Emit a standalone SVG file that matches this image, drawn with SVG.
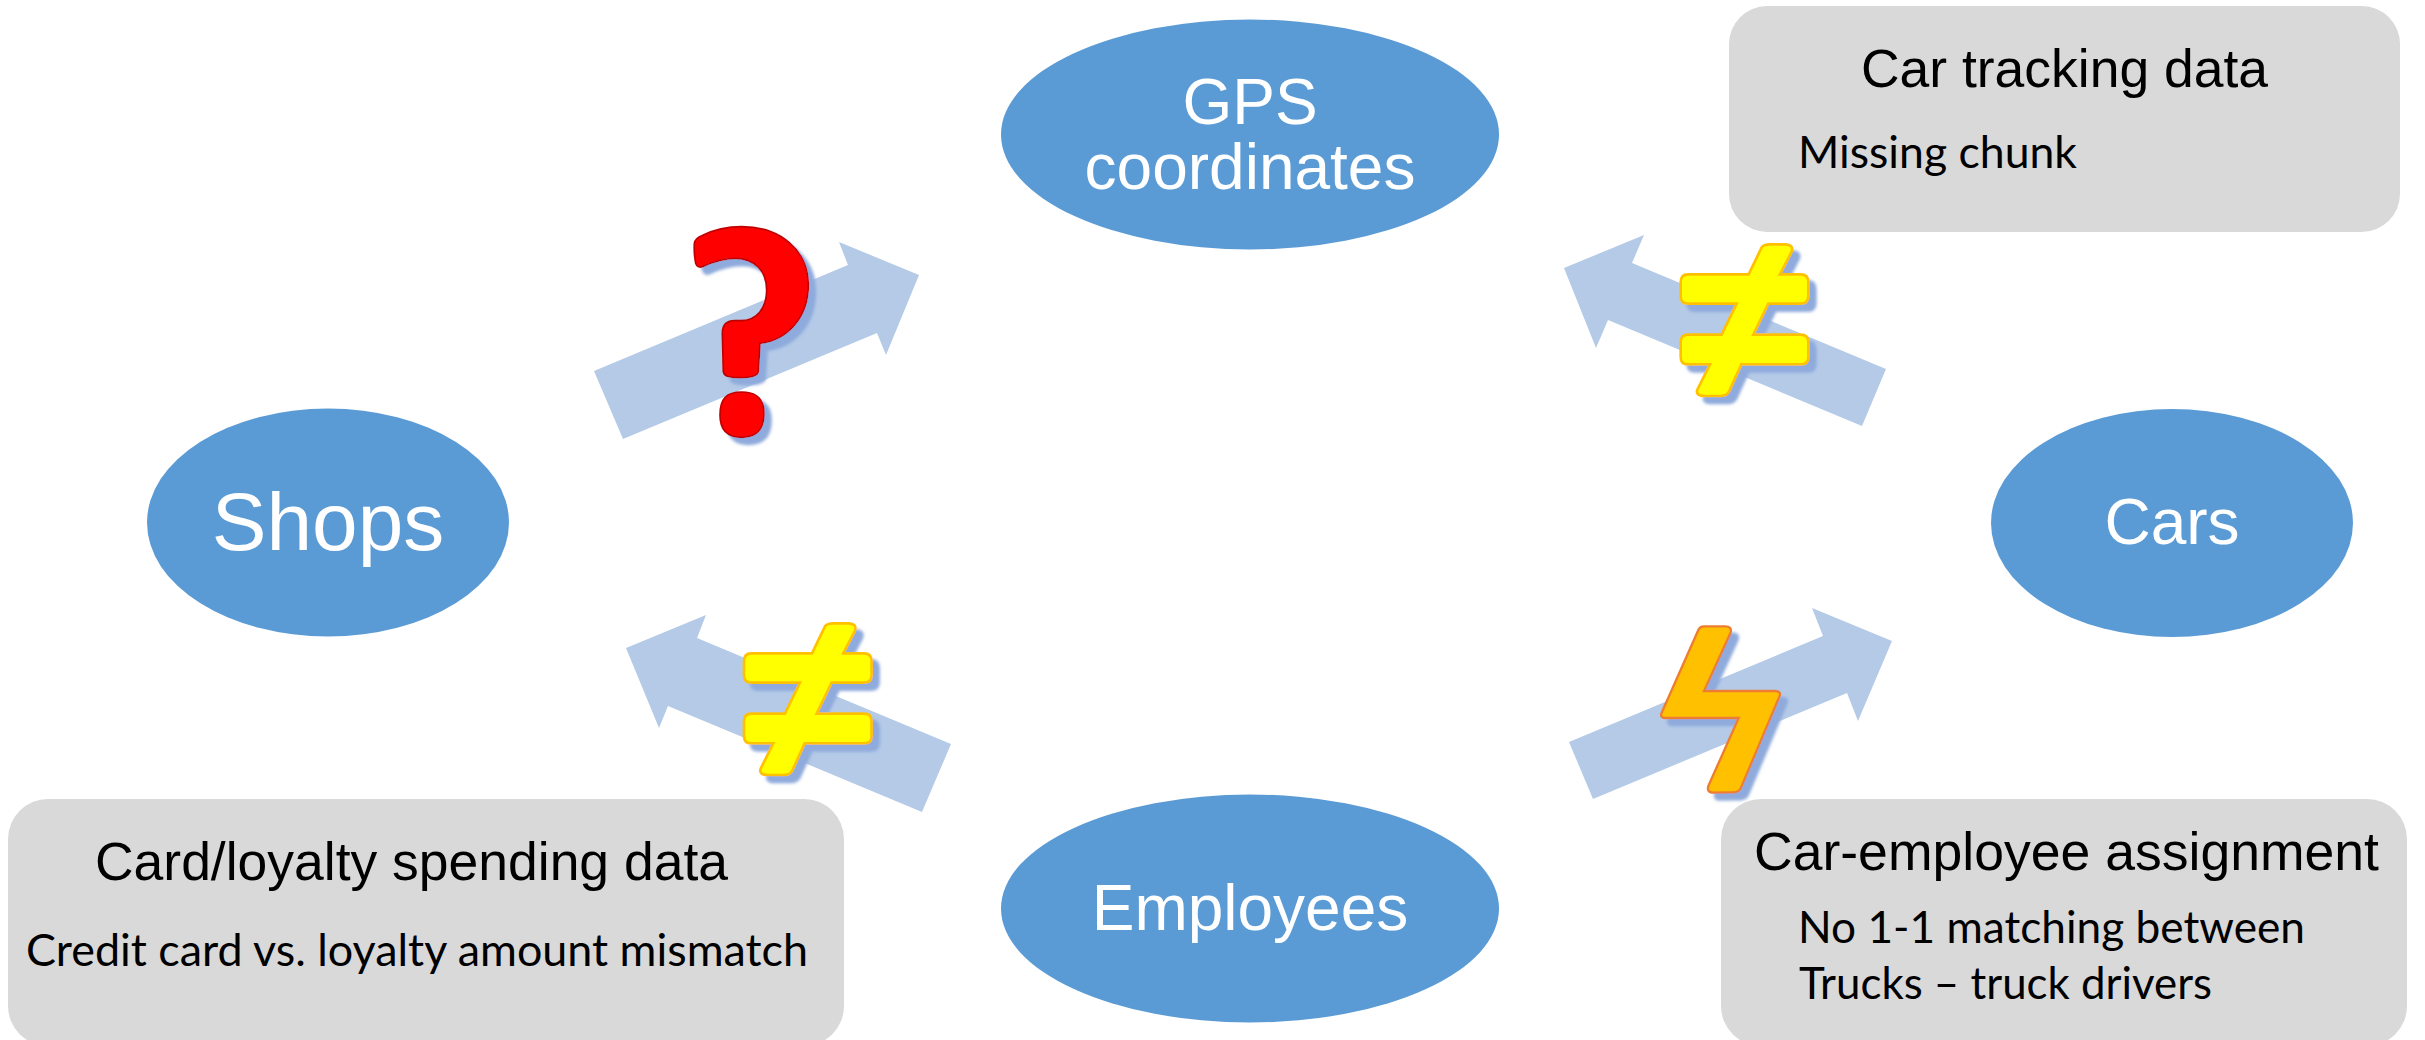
<svg xmlns="http://www.w3.org/2000/svg" width="2425" height="1040" viewBox="0 0 2425 1040">
<style>
.node{fill:#5B9BD5}
.box{fill:#D9D9D9}
.arrow{fill:#B4CAE7}
.lbl{font-family:"Liberation Sans",Arial,sans-serif;fill:#fff;text-anchor:middle}
.ttl{font-family:"Liberation Sans",Arial,sans-serif;fill:#000;font-size:54px}
.sub{font-family:Lato,"Open Sans",sans-serif;fill:#000;font-size:44px}
.q{fill:#FF0000;stroke:#C00000;stroke-width:5}
.ne{fill:#FFFF00;stroke:#FFC000;stroke-width:8}
.bolt{fill:#FFC000;stroke:#ED7D31;stroke-width:7}
</style>
<defs>
<filter id="sh" x="-20%" y="-20%" width="150%" height="150%"><feDropShadow dx="7" dy="7" stdDeviation="1.6" flood-color="#8FAADC" flood-opacity="1"/></filter>
<path id="neq" transform="scale(.33333)" d="M635 82 C640 75 648 73 660 73 L705 73 C722 73 731 82 724 97 L690 163 L752 163 C767 163 775 172 775 187 L775 228 C775 243 767 251 752 251 L655 251 L610 344 L752 344 C767 344 775 352 775 367 L775 410 C775 425 767 433 752 433 L574 433 L537 515 C532 525 524 528 512 528 L465 528 C447 528 436 522 443 507 L480 433 L414 433 C399 433 392 425 392 410 L392 367 C392 352 399 344 414 344 L515 344 L560 251 L414 251 C399 251 392 243 392 228 L392 187 C392 172 399 163 414 163 L596 163 Z"/>
</defs>
<g id="connectors">
<polygon class="arrow" points="594,371 848,265 839,242 919,275 886,355 877,333 623,439"/>
<polygon class="arrow" points="1564,268 1644,235 1632,263 1886,369 1862,426 1608,320 1596,348"/>
<polygon class="arrow" points="626,648 706,615 697,638 951,744 922,812 668,706 659,728"/>
<polygon class="arrow" points="1569,742 1823,636 1812,608 1892,641 1858,721 1847,693 1593,799"/>
</g>
<g id="gps"><ellipse class="node" cx="1250" cy="134.5" rx="249" ry="115"/>
<text class="lbl" x="1250" y="124" font-size="64">GPS</text><text class="lbl" x="1250" y="189" font-size="64">coordinates</text></g>
<g id="shops"><ellipse class="node" cx="328" cy="522.5" rx="181" ry="114"/>
<text class="lbl" x="328" y="550" font-size="82">Shops</text></g>
<g id="cars"><ellipse class="node" cx="2172" cy="523" rx="181" ry="114"/>
<text class="lbl" x="2172" y="544" font-size="64">Cars</text></g>
<g id="employees"><ellipse class="node" cx="1250" cy="908.5" rx="249" ry="114"/>
<text class="lbl" x="1250" y="930" font-size="64">Employees</text></g>
<g id="box-tracking"><rect class="box" x="1729" y="6" width="671" height="226" rx="38"/>
<text class="ttl" x="1861" y="87" textLength="407" lengthAdjust="spacingAndGlyphs">Car tracking data</text>
<text class="sub" x="1798" y="168" textLength="279" lengthAdjust="spacingAndGlyphs">Missing chunk</text></g>
<g id="box-spending"><rect class="box" x="8" y="799" width="836" height="247" rx="40"/>
<text class="ttl" x="95" y="880" textLength="633" lengthAdjust="spacingAndGlyphs">Card/loyalty spending data</text>
<text class="sub" x="26" y="966" textLength="782" lengthAdjust="spacingAndGlyphs">Credit card vs. loyalty amount mismatch</text></g>
<g id="box-assignment"><rect class="box" x="1721" y="799" width="686" height="247" rx="40"/>
<text class="ttl" x="1754" y="870" textLength="625" lengthAdjust="spacingAndGlyphs">Car-employee assignment</text>
<text class="sub" x="1798" y="943" textLength="507" lengthAdjust="spacingAndGlyphs">No 1-1 matching between</text>
<text class="sub" x="1799" y="999" textLength="413" lengthAdjust="spacingAndGlyphs">Trucks – truck drivers</text></g>
<g id="question" filter="url(#sh)"><g transform="translate(580,200) scale(.33333)">
<path class="q" d="M343 130 C345 118 352 112 365 107 C400 90 445 80 485 80 C600 80 685 150 685 255 C685 350 625 420 540 430 L535 515 C533 528 515 533 480 533 C445 533 432 528 430 515 L427 400 C427 375 440 362 465 362 L482 362 C530 362 560 325 560 270 C560 215 525 175 465 175 C430 175 400 185 372 198 C358 205 350 200 347 190 C344 175 342 150 343 130 Z"/>
<path class="q" d="M485 576 C530 576 552 595 552 640 C552 690 530 712 485 712 C440 712 420 690 420 645 C420 595 440 576 485 576 Z"/></g></g>
<g id="neq-gps" filter="url(#sh)"><use class="ne" href="#neq" transform="translate(1550,220)"/></g>
<g id="neq-shops" filter="url(#sh)"><use class="ne" href="#neq" transform="translate(613.3,599)"/></g>
<g id="bolt" filter="url(#sh)"><path class="bolt" transform="translate(1550,600) scale(.33333)" d="M445 90 C448 83 452 79 462 79 L525 79 C540 79 546 86 541 100 L462 273 L675 273 C688 273 693 279 688 290 L573 563 C569 573 562 577 550 577 L490 578 C476 578 470 570 476 556 L566 354 L345 354 C335 354 331 348 335 338 Z"/></g>
</svg>
